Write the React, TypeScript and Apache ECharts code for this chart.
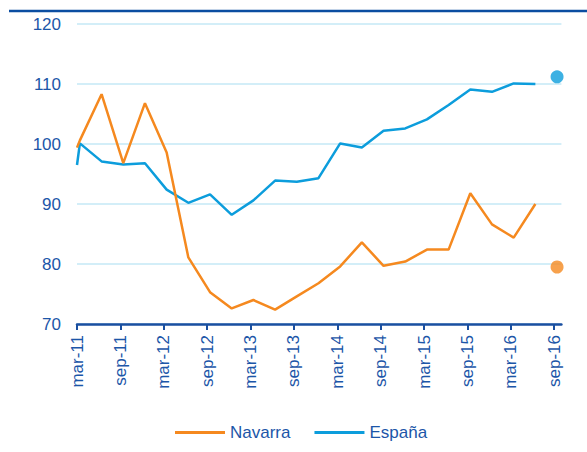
import React, { useEffect, useRef } from "react";
import * as echarts from "echarts";

const tickLabels = ["mar-11", "sep-11", "mar-12", "sep-12", "mar-13", "sep-13", "mar-14", "sep-14", "mar-15", "sep-15", "mar-16", "sep-16"];

// quarterly observations, starting mar-11
const navarra = [100.6, 108.3, 96.8, 106.8, 98.6, 81.1, 75.3, 72.6, 74.0, 72.4, 74.6, 76.8, 79.6, 83.6, 79.7, 80.4, 82.4, 82.4, 91.8, 86.6, 84.4, 90.0];
const espana = [100.1, 97.1, 96.6, 96.8, 92.4, 90.2, 91.6, 88.2, 90.6, 93.9, 93.7, 94.3, 100.1, 99.4, 102.2, 102.6, 104.1, 106.5, 109.1, 108.7, 110.1, 110.0];
// value seen at the left edge of the plot
const navarraEdge = 99.4;
const espanaEdge = 96.5;
// isolated end-point markers (sep-16)
const navarraPoint = 79.5;
const espanaPoint = 111.2;

const ORANGE = "#F5891F";
const BLUE = "#0C9DDC";
const DARK = "#1C56A8";
const FONT = "Liberation Sans, Arial, sans-serif";

const monthOf = (k: number) => 3 * k + 0.4;

export default function App() {
  const ref = useRef<HTMLDivElement>(null);
  useEffect(() => {
    if (!ref.current) return;
    const chart = echarts.init(ref.current, null, { renderer: "svg" });
    const navData: number[][] = [[0, navarraEdge], ...navarra.map((v, k) => [monthOf(k), v])];
    const espData: number[][] = [[0, espanaEdge], ...espana.map((v, k) => [monthOf(k), v])];
    const endK = navarra.length;
    chart.setOption({
      animation: false,
      grid: { left: 77, right: 25.6, top: 24, bottom: 128 },
      graphic: [
        {
          type: "line",
          shape: { x1: 9, y1: 11, x2: 587, y2: 11 },
          style: { stroke: "#0B4DA1", lineWidth: 2.5 },
        },
      ],
      legend: {
        left: 175,
        top: 424,
        padding: 0,
        itemWidth: 50,
        itemHeight: 3,
        itemGap: 24,
        icon: "rect",
        textStyle: { color: DARK, fontSize: 17, fontFamily: FONT, padding: [0, 0, 0, 0] },
        data: ["Navarra", "España"],
      },
      xAxis: {
        type: "value",
        min: 0,
        max: 67,
        interval: 6,
        splitLine: { show: false },
        axisLine: { show: true, lineStyle: { color: "#1A4FA0", width: 2.5 } },
        axisTick: {
          show: true,
          length: 6,
          lineStyle: { color: "#1A4FA0", width: 2 },
          customValues: tickLabels.map((_, i) => i * 6),
        },
        axisLabel: {
          rotate: 90,
          margin: 11,
          color: DARK,
          fontSize: 17,
          fontFamily: FONT,
          customValues: tickLabels.map((_, i) => i * 6),
          formatter: (v: number) => tickLabels[Math.round(v / 6)] ?? "",
        },
      },
      yAxis: {
        type: "value",
        min: 70,
        max: 120,
        interval: 10,
        axisLine: { show: false },
        axisTick: { show: false },
        splitLine: { lineStyle: { color: "#C4E8F6", width: 1.5 } },
        axisLabel: { color: DARK, fontSize: 17, fontFamily: FONT, margin: 16 },
      },
      series: [
        {
          name: "Navarra",
          type: "line",
          data: navData,
          symbol: "none",
          clip: true,
          color: ORANGE,
          lineStyle: { color: ORANGE, width: 2.5 },
          z: 3,
        },
        {
          name: "España",
          type: "line",
          data: espData,
          symbol: "none",
          clip: true,
          color: BLUE,
          lineStyle: { color: BLUE, width: 2.5 },
          z: 2,
        },
        {
          type: "scatter",
          data: [[monthOf(endK), navarraPoint]],
          symbolSize: 13,
          itemStyle: { color: ORANGE },
          clip: false,
        },
        {
          type: "scatter",
          data: [[monthOf(endK), espanaPoint]],
          symbolSize: 13,
          itemStyle: { color: BLUE },
          clip: false,
        },
      ],
    });
    return () => chart.dispose();
  }, []);
  return (
    <div
      ref={ref}
      style={{ position: "fixed", left: 0, top: 0, width: 587, height: 452, background: "#fff" }}
    />
  );
}
